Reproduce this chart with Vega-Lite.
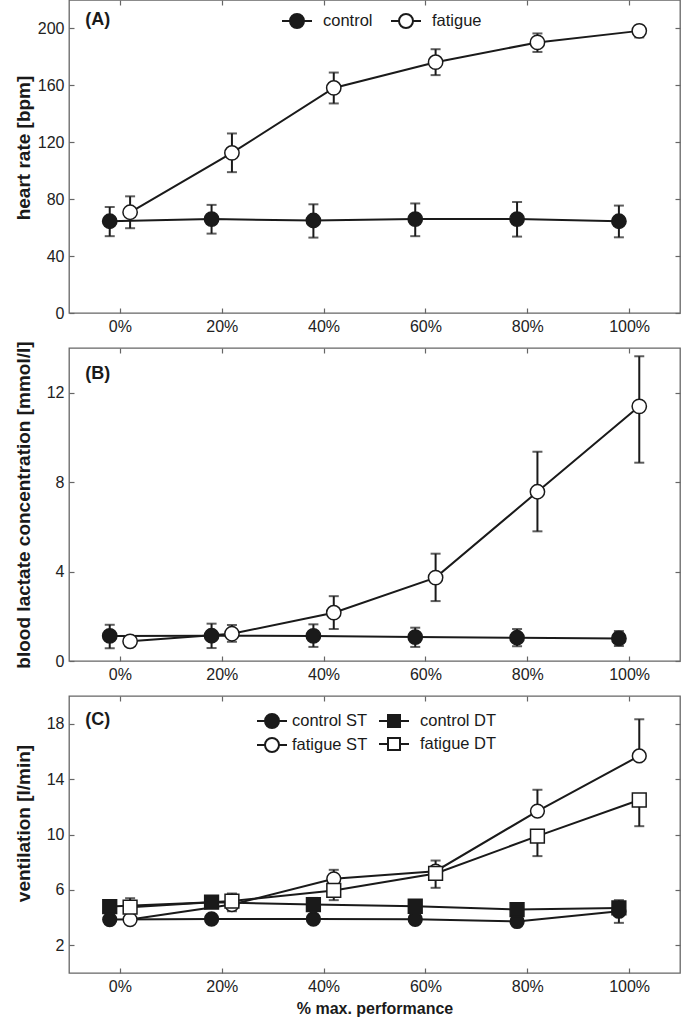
{
  "$schema": "https://vega.github.io/schema/vega-lite/v6.json",
  "padding": {"left": 13, "top": -2, "right": 5, "bottom": 5},
  "spacing": 35,
  "bounds": "flush",
  "datasets": {
    "A": [
      {"series": "control", "x": -2, "y": 64.5, "lo": 54, "hi": 74.5},
      {"series": "control", "x": 18, "y": 66, "lo": 55.8, "hi": 76},
      {"series": "control", "x": 38, "y": 65, "lo": 53, "hi": 76.4},
      {"series": "control", "x": 58, "y": 66, "lo": 54, "hi": 77},
      {"series": "control", "x": 78, "y": 66, "lo": 53.7, "hi": 78},
      {"series": "control", "x": 98, "y": 64.5, "lo": 53.2, "hi": 75.5},
      {"series": "fatigue", "x": 2, "y": 70.8, "lo": 59.6, "hi": 82},
      {"series": "fatigue", "x": 22, "y": 112.5, "lo": 99, "hi": 126.2},
      {"series": "fatigue", "x": 42, "y": 158.2, "lo": 147.3, "hi": 169},
      {"series": "fatigue", "x": 62, "y": 176.3, "lo": 167.2, "hi": 185.4},
      {"series": "fatigue", "x": 82, "y": 190.2, "lo": 183.5, "hi": 196.5},
      {"series": "fatigue", "x": 102, "y": 198.3, "lo": 193.7, "hi": 202}
    ],
    "B": [
      {"series": "control", "x": -2, "y": 1.12, "lo": 0.57, "hi": 1.62},
      {"series": "control", "x": 18, "y": 1.13, "lo": 0.58, "hi": 1.67},
      {"series": "control", "x": 38, "y": 1.12, "lo": 0.63, "hi": 1.64},
      {"series": "control", "x": 58, "y": 1.07, "lo": 0.63, "hi": 1.49},
      {"series": "control", "x": 78, "y": 1.04, "lo": 0.66, "hi": 1.43},
      {"series": "control", "x": 98, "y": 1.01, "lo": 0.67, "hi": 1.34},
      {"series": "fatigue", "x": 2, "y": 0.88, "lo": 0.75, "hi": 1.0},
      {"series": "fatigue", "x": 22, "y": 1.22, "lo": 0.86, "hi": 1.61},
      {"series": "fatigue", "x": 42, "y": 2.16, "lo": 1.43, "hi": 2.9},
      {"series": "fatigue", "x": 62, "y": 3.73, "lo": 2.68, "hi": 4.8},
      {"series": "fatigue", "x": 82, "y": 7.57, "lo": 5.8, "hi": 9.36},
      {"series": "fatigue", "x": 102, "y": 11.39, "lo": 8.87, "hi": 13.63}
    ],
    "C": [
      {"series": "control ST", "x": -2, "y": 3.86, "lo": 3.6, "hi": 3.86},
      {"series": "control ST", "x": 18, "y": 3.9, "lo": 3.65, "hi": 3.9},
      {"series": "control ST", "x": 38, "y": 3.9, "lo": 3.65, "hi": 3.9},
      {"series": "control ST", "x": 58, "y": 3.88, "lo": 3.6, "hi": 3.88},
      {"series": "control ST", "x": 78, "y": 3.72, "lo": 3.45, "hi": 3.72},
      {"series": "control ST", "x": 98, "y": 4.46, "lo": 3.62, "hi": 4.46},
      {"series": "control DT", "x": -2, "y": 4.8, "lo": 4.8, "hi": 5.15},
      {"series": "control DT", "x": 18, "y": 5.11, "lo": 5.11, "hi": 5.4},
      {"series": "control DT", "x": 38, "y": 4.94, "lo": 4.94, "hi": 5.42},
      {"series": "control DT", "x": 58, "y": 4.82, "lo": 4.82, "hi": 5.2},
      {"series": "control DT", "x": 78, "y": 4.58, "lo": 4.58, "hi": 4.9},
      {"series": "control DT", "x": 98, "y": 4.7, "lo": 4.7, "hi": 5.26},
      {"series": "fatigue ST", "x": 2, "y": 3.86, "lo": 3.6, "hi": 3.86},
      {"series": "fatigue ST", "x": 22, "y": 4.94, "lo": 4.46, "hi": 4.94},
      {"series": "fatigue ST", "x": 42, "y": 6.8, "lo": 6.8, "hi": 7.45},
      {"series": "fatigue ST", "x": 62, "y": 7.35, "lo": 7.35, "hi": 8.12},
      {"series": "fatigue ST", "x": 82, "y": 11.69, "lo": 11.69, "hi": 13.23},
      {"series": "fatigue ST", "x": 102, "y": 15.67, "lo": 15.67, "hi": 18.32},
      {"series": "fatigue DT", "x": 2, "y": 4.75, "lo": 4.75, "hi": 5.4},
      {"series": "fatigue DT", "x": 22, "y": 5.19, "lo": 5.19, "hi": 5.74},
      {"series": "fatigue DT", "x": 42, "y": 5.96, "lo": 5.26, "hi": 5.96},
      {"series": "fatigue DT", "x": 62, "y": 7.19, "lo": 6.15, "hi": 7.19},
      {"series": "fatigue DT", "x": 82, "y": 9.88, "lo": 8.44, "hi": 9.88},
      {"series": "fatigue DT", "x": 102, "y": 12.49, "lo": 10.6, "hi": 12.49}
    ]
  },
  "vconcat": [
    {
      "width": 611, "height": 313,
      "data": {"name": "A"},
      "resolve": {"axis": {"x": "independent", "y": "independent"}},
      "layer": [
        {
          "mark": {"type": "rule", "strokeWidth": 2, "color": "#1a1a1a"},
          "encoding": {
            "x": {"field": "x", "type": "quantitative", "scale": {"domain": [-10, 110], "nice": false, "zero": false},
                  "axis": {"orient": "bottom", "values": [0, 20, 40, 60, 80, 100], "labelExpr": "datum.value + '%'", "title": null}},
            "y": {"field": "lo", "type": "quantitative", "scale": {"domain": [0, 220], "nice": false},
                  "axis": {"orient": "left", "values": [0, 40, 80, 120, 160, 200], "title": "heart rate [bpm]", "titleY": 147.5}},
            "y2": {"field": "hi"}
          }
        },
        {
          "mark": {"type": "tick", "orient": "horizontal", "size": 10, "thickness": 2, "color": "#1a1a1a"},
          "encoding": {"x": {"field": "x", "type": "quantitative", "axis": null}, "y": {"field": "lo", "type": "quantitative", "axis": null}}
        },
        {
          "mark": {"type": "tick", "orient": "horizontal", "size": 10, "thickness": 2, "color": "#1a1a1a"},
          "encoding": {"x": {"field": "x", "type": "quantitative", "axis": null}, "y": {"field": "hi", "type": "quantitative", "axis": null}}
        },
        {
          "mark": {"type": "line", "strokeWidth": 2, "color": "#1a1a1a"},
          "encoding": {
            "x": {"field": "x", "type": "quantitative", "axis": {"orient": "top", "values": [0, 20, 40, 60, 80, 100], "labels": false, "title": null}},
            "y": {"field": "y", "type": "quantitative", "axis": {"orient": "right", "values": [0, 40, 80, 120, 160, 200], "labels": false, "title": null}},
            "detail": {"field": "series"}
          }
        },
        {
          "mark": {"type": "point", "shape": "circle", "size": 205, "stroke": "#1a1a1a", "strokeWidth": 1.5, "opacity": 1},
          "encoding": {
            "x": {"field": "x", "type": "quantitative", "axis": null},
            "y": {"field": "y", "type": "quantitative", "axis": null},
            "fill": {"field": "series", "type": "nominal", "scale": {"domain": ["control", "fatigue"], "range": ["#1a1a1a", "#ffffff"]},
                     "legend": {"orient": "none", "legendX": 217, "legendY": 10, "direction": "horizontal", "columns": 2, "title": null,
                                "symbolSize": 400, "symbolStrokeWidth": 2, "symbolStrokeColor": "#1a1a1a", "labelOffset": 15, "columnPadding": 14,
                                "symbolType": "M-1.5,0H-0.7M0.7,0H1.5M-0.7,0A0.7,0.7,0,1,0,0.7,0A0.7,0.7,0,1,0,-0.7,0Z"}}
          }
        },
        {
          "data": {"values": [{}]},
          "mark": {"type": "text", "text": "(A)", "fontSize": 18, "fontWeight": "bold", "align": "left", "baseline": "middle", "color": "#1a1a1a"},
          "encoding": {"x": {"datum": -6.8, "type": "quantitative", "axis": null}, "y": {"datum": 205.6, "type": "quantitative", "axis": null}}
        }
      ]
    },
    {
      "width": 611, "height": 313,
      "data": {"name": "B"},
      "resolve": {"axis": {"x": "independent", "y": "independent"}},
      "layer": [
        {
          "mark": {"type": "rule", "strokeWidth": 2, "color": "#1a1a1a"},
          "encoding": {
            "x": {"field": "x", "type": "quantitative", "scale": {"domain": [-10, 110], "nice": false, "zero": false},
                  "axis": {"orient": "bottom", "values": [0, 20, 40, 60, 80, 100], "labelExpr": "datum.value + '%'", "title": null}},
            "y": {"field": "lo", "type": "quantitative", "scale": {"domain": [0, 14], "nice": false},
                  "axis": {"orient": "left", "values": [0, 4, 8, 12], "title": "blood lactate concentration [mmol/l]"}},
            "y2": {"field": "hi"}
          }
        },
        {
          "mark": {"type": "tick", "orient": "horizontal", "size": 10, "thickness": 2, "color": "#1a1a1a"},
          "encoding": {"x": {"field": "x", "type": "quantitative", "axis": null}, "y": {"field": "lo", "type": "quantitative", "axis": null}}
        },
        {
          "mark": {"type": "tick", "orient": "horizontal", "size": 10, "thickness": 2, "color": "#1a1a1a"},
          "encoding": {"x": {"field": "x", "type": "quantitative", "axis": null}, "y": {"field": "hi", "type": "quantitative", "axis": null}}
        },
        {
          "mark": {"type": "line", "strokeWidth": 2, "color": "#1a1a1a"},
          "encoding": {
            "x": {"field": "x", "type": "quantitative", "axis": {"orient": "top", "values": [0, 20, 40, 60, 80, 100], "labels": false, "title": null}},
            "y": {"field": "y", "type": "quantitative", "axis": {"orient": "right", "values": [0, 4, 8, 12], "labels": false, "title": null}},
            "detail": {"field": "series"}
          }
        },
        {
          "mark": {"type": "point", "shape": "circle", "size": 205, "stroke": "#1a1a1a", "strokeWidth": 1.5, "opacity": 1},
          "encoding": {
            "x": {"field": "x", "type": "quantitative", "axis": null},
            "y": {"field": "y", "type": "quantitative", "axis": null},
            "fill": {"field": "series", "type": "nominal", "scale": {"domain": ["control", "fatigue"], "range": ["#1a1a1a", "#ffffff"]}, "legend": null}
          }
        },
        {
          "data": {"values": [{}]},
          "mark": {"type": "text", "text": "(B)", "fontSize": 18, "fontWeight": "bold", "align": "left", "baseline": "middle", "color": "#1a1a1a"},
          "encoding": {"x": {"datum": -6.8, "type": "quantitative", "axis": null}, "y": {"datum": 12.84, "type": "quantitative", "axis": null}}
        }
      ]
    },
    {
      "width": 611, "height": 277,
      "data": {"name": "C"},
      "resolve": {"axis": {"x": "independent", "y": "independent"}, "scale": {"shape": "independent", "fill": "independent"}},
      "layer": [
        {
          "mark": {"type": "rule", "strokeWidth": 2, "color": "#1a1a1a"},
          "encoding": {
            "x": {"field": "x", "type": "quantitative", "scale": {"domain": [-10, 110], "nice": false, "zero": false},
                  "axis": {"orient": "bottom", "values": [0, 20, 40, 60, 80, 100], "labelExpr": "datum.value + '%'", "title": "% max. performance"}},
            "y": {"field": "lo", "type": "quantitative", "scale": {"domain": [0, 20], "nice": false},
                  "axis": {"orient": "left", "values": [2, 6, 10, 14, 18], "title": "ventilation [l/min]", "titleY": 127}},
            "y2": {"field": "hi"}
          }
        },
        {
          "mark": {"type": "tick", "orient": "horizontal", "size": 10, "thickness": 2, "color": "#1a1a1a"},
          "encoding": {"x": {"field": "x", "type": "quantitative", "axis": null}, "y": {"field": "lo", "type": "quantitative", "axis": null}}
        },
        {
          "mark": {"type": "tick", "orient": "horizontal", "size": 10, "thickness": 2, "color": "#1a1a1a"},
          "encoding": {"x": {"field": "x", "type": "quantitative", "axis": null}, "y": {"field": "hi", "type": "quantitative", "axis": null}}
        },
        {
          "mark": {"type": "line", "strokeWidth": 2, "color": "#1a1a1a"},
          "encoding": {
            "x": {"field": "x", "type": "quantitative", "axis": {"orient": "top", "values": [0, 20, 40, 60, 80, 100], "labels": false, "title": null}},
            "y": {"field": "y", "type": "quantitative", "axis": {"orient": "right", "values": [2, 6, 10, 14, 18], "labels": false, "title": null}},
            "detail": {"field": "series"}
          }
        },
        {
          "transform": [{"filter": "indexof(datum.series, 'ST') > 0"}],
          "mark": {"type": "point", "shape": "circle", "size": 0, "stroke": "#1a1a1a", "strokeWidth": 2, "opacity": 1},
          "encoding": {
            "x": {"field": "x", "type": "quantitative", "axis": null},
            "y": {"field": "y", "type": "quantitative", "axis": null},
            "fill": {"field": "series", "type": "nominal", "scale": {"domain": ["control ST", "fatigue ST"], "range": ["#1a1a1a", "#ffffff"]},
                     "legend": {"orient": "none", "legendX": 192, "legendY": 14, "direction": "vertical", "columns": 1, "title": null,
                                "symbolSize": 400, "symbolStrokeWidth": 2, "symbolStrokeColor": "#1a1a1a", "labelOffset": 9, "rowPadding": 2,
                                "symbolType": "M-1.5,0H-0.7M0.7,0H1.5M-0.7,0A0.7,0.7,0,1,0,0.7,0A0.7,0.7,0,1,0,-0.7,0Z"}}
          }
        },
        {
          "transform": [{"filter": "indexof(datum.series, 'DT') > 0"}],
          "mark": {"type": "point", "shape": "square", "size": 0, "stroke": "#1a1a1a", "strokeWidth": 2, "opacity": 1},
          "encoding": {
            "x": {"field": "x", "type": "quantitative", "axis": null},
            "y": {"field": "y", "type": "quantitative", "axis": null},
            "fill": {"field": "series", "type": "nominal", "scale": {"domain": ["control DT", "fatigue DT"], "range": ["#1a1a1a", "#ffffff"]},
                     "legend": {"orient": "none", "legendX": 314, "legendY": 14, "direction": "vertical", "columns": 1, "title": null,
                                "symbolSize": 400, "symbolStrokeWidth": 2, "symbolStrokeColor": "#1a1a1a", "labelOffset": 15, "rowPadding": 2,
                                "symbolType": "M-1.5,0H-0.6M0.6,0H1.5M-0.6,-0.6H0.6V0.6H-0.6Z"}}
          }
        },
        {
          "mark": {"type": "point", "size": 190, "stroke": "#1a1a1a", "strokeWidth": 1.5, "opacity": 1},
          "encoding": {
            "x": {"field": "x", "type": "quantitative", "axis": null},
            "y": {"field": "y", "type": "quantitative", "axis": null},
            "shape": {"field": "series", "type": "nominal", "scale": {"domain": ["control ST", "control DT", "fatigue ST", "fatigue DT"], "range": ["circle", "square", "circle", "square"]}, "legend": null},
            "fill": {"field": "series", "type": "nominal", "scale": {"domain": ["control ST", "control DT", "fatigue ST", "fatigue DT"], "range": ["#1a1a1a", "#1a1a1a", "#ffffff", "#ffffff"]}, "legend": null}
          }
        },
        {
          "data": {"values": [{}]},
          "mark": {"type": "text", "text": "(C)", "fontSize": 18, "fontWeight": "bold", "align": "left", "baseline": "middle", "color": "#1a1a1a"},
          "encoding": {"x": {"datum": -6.8, "type": "quantitative", "axis": null}, "y": {"datum": 18.26, "type": "quantitative", "axis": null}}
        }
      ]
    }
  ],
  "resolve": {
    "scale": {"x": "independent", "y": "independent", "fill": "independent", "shape": "independent"},
    "legend": {"fill": "independent", "shape": "independent"}
  },
  "config": {
    "font": "Liberation Sans",
    "view": {"stroke": "#666666", "strokeWidth": 1.3},
    "axis": {
      "domain": false, "grid": false,
      "tickSize": -5, "tickColor": "#666666", "tickWidth": 1.2,
      "labelFont": "Liberation Sans", "labelFontSize": 16, "labelColor": "#222222", "labelPadding": 10,
      "titleFont": "Liberation Sans", "titleFontWeight": "bold", "titleColor": "#1a1a1a"
    },
    "axisLeft": {"titleFontSize": 19, "titleX": -36},
    "axisBottom": {"titleFontSize": 16, "titlePadding": 6},
    "legend": {"labelFont": "Liberation Sans", "labelFontSize": 16.5, "labelColor": "#1a1a1a", "padding": 0}
  }
}
